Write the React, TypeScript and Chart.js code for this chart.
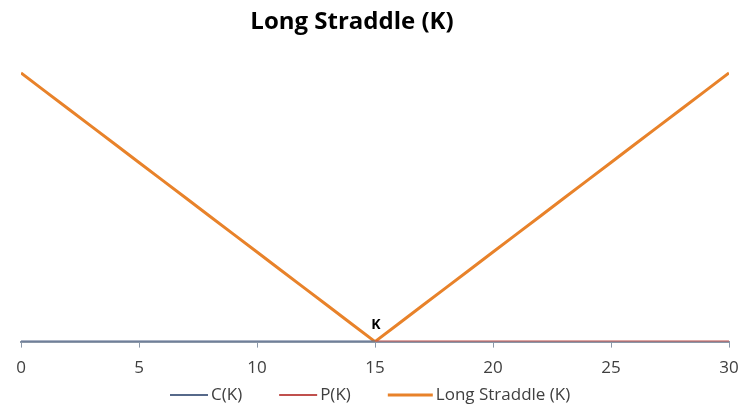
import React, { useEffect, useRef } from "react";
import { Chart, registerables } from "chart.js";

Chart.register(...registerables);

const strikes = [0, 1, 2, 3, 4, 5, 6, 7, 8, 9, 10, 11, 12, 13, 14, 15, 16, 17, 18, 19, 20, 21, 22, 23, 24, 25, 26, 27, 28, 29, 30];
const callValues = [0, 0, 0, 0, 0, 0, 0, 0, 0, 0, 0, 0, 0, 0, 0, 0, null, null, null, null, null, null, null, null, null, null, null, null, null, null, null];
const putValues = [null, null, null, null, null, null, null, null, null, null, null, null, null, null, null, 0, 0, 0, 0, 0, 0, 0, 0, 0, 0, 0, 0, 0, 0, 0, 0];
const straddleValues = [15, 14, 13, 12, 11, 10, 9, 8, 7, 6, 5, 4, 3, 2, 1, 0, 1, 2, 3, 4, 5, 6, 7, 8, 9, 10, 11, 12, 13, 14, 15];
const xTicks = [0, 5, 10, 15, 20, 25, 30];
const titleText = "Long Straddle (K)";
const strikeLabel = "K";
const strikeValue = 15;

const FONT = "'Open Sans', sans-serif";

const toPoints = (vals: (number | null)[]) =>
  strikes.map((x, i) => ({ x, y: vals[i] }));

export default function App() {
  const ref = useRef<HTMLCanvasElement | null>(null);

  useEffect(() => {
    document.body.style.margin = "0";
    const canvas = ref.current;
    if (!canvas) return;

    const overlay = {
      id: "overlay",
      afterDraw(chart: any) {
        const ctx = chart.ctx;
        ctx.save();
        ctx.fillStyle = "#000";
        ctx.textAlign = "center";
        ctx.textBaseline = "middle";
        ctx.font = `bold 24px ${FONT}`;
        ctx.fillText(titleText, 352, 22);
        const xs = chart.scales.x;
        const ys = chart.scales.y;
        ctx.font = `bold 14px ${FONT}`;
        ctx.fillText(strikeLabel, xs.getPixelForValue(strikeValue) + 1, ys.getPixelForValue(0) - 17);

        // legend
        ctx.font = `17px ${FONT}`;
        ctx.textAlign = "left";
        let x = 170;
        const y = 395;
        chart.data.datasets.forEach((ds: any, i: number) => {
          const lineLen = i === 2 ? 45 : 38;
          ctx.strokeStyle = ds.borderColor;
          ctx.lineWidth = ds.borderWidth;
          ctx.beginPath();
          ctx.moveTo(x, y);
          ctx.lineTo(x + lineLen, y);
          ctx.stroke();
          x += lineLen + 3;
          ctx.fillStyle = "#404040";
          ctx.fillText(ds.label, x, y);
          x += ctx.measureText(ds.label).width + 37;
        });
        ctx.restore();
      },
    };

    const chart = new Chart(canvas, {
      type: "line",
      data: {
        datasets: [
          {
            label: "C(K)",
            data: toPoints(callValues),
            borderColor: "#56698a",
            backgroundColor: "#56698a",
            borderWidth: 2,
            pointRadius: 0,
            spanGaps: false,
          },
          {
            label: "P(K)",
            data: toPoints(putValues),
            borderColor: "#c0504d",
            backgroundColor: "#c0504d",
            borderWidth: 2,
            pointRadius: 0,
            spanGaps: false,
          },
          {
            label: "Long Straddle (K)",
            data: toPoints(straddleValues),
            borderColor: "#e8822a",
            backgroundColor: "#e8822a",
            borderWidth: 3,
            pointRadius: 0,
          },
        ],
      },
      options: {
        animation: false,
        responsive: false,
        layout: { padding: { left: 21, right: 11, top: 55, bottom: 21 } },
        plugins: {
          title: { display: false },
          tooltip: { enabled: false },
          legend: { display: false },
        },
        scales: {
          x: {
            type: "linear",
            min: 0,
            max: 30,
            afterBuildTicks: (axis: any) => {
              axis.ticks = xTicks.map((v) => ({ value: v }));
            },
            afterFit: (axis: any) => {
              axis.paddingLeft = 0;
              axis.paddingRight = 0;
            },
            grid: {
              drawOnChartArea: false,
              drawTicks: true,
              tickLength: 6,
              color: "#8a97a8",
            },
            border: { display: true, color: "#8a97a8", width: 2 },
            ticks: {
              color: "#404040",
              font: { family: FONT, size: 17 },
              padding: 10,
              maxRotation: 0,
            },
          },
          y: {
            display: false,
            min: 0,
            max: 16,
          },
        },
      },
      plugins: [overlay],
    });

    return () => chart.destroy();
  }, []);

  return (
    <div style={{ position: "absolute", left: 0, top: 0, width: 740, height: 409, background: "#fff" }}>
      <canvas ref={ref} width={740} height={409} />
    </div>
  );
}
